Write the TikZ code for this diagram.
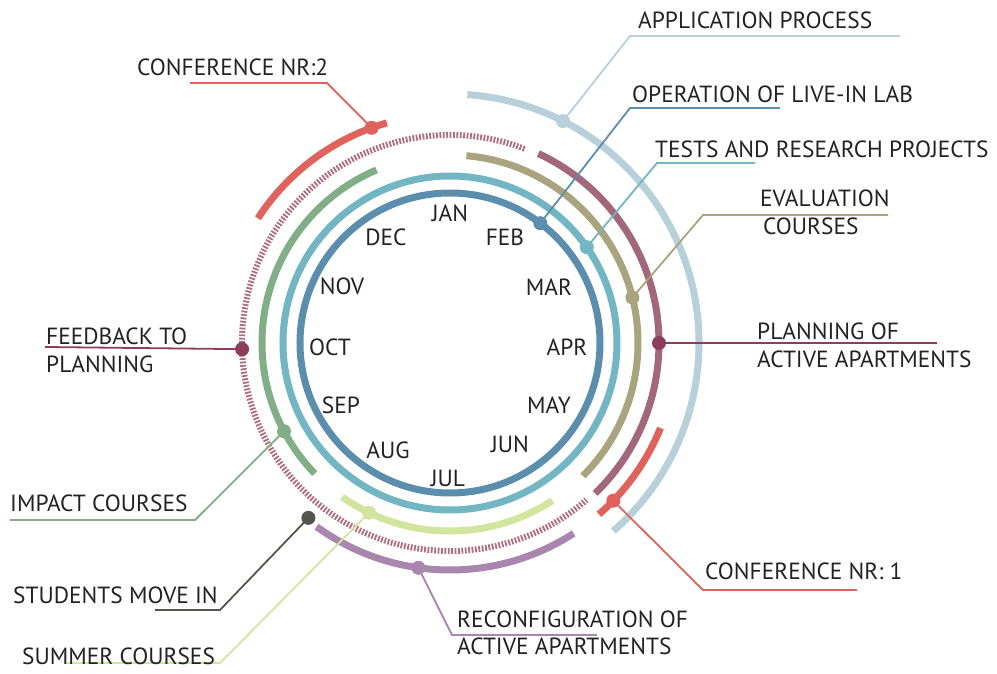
\documentclass[tikz,border=0pt]{standalone}
\usepackage{fontspec}
\setmainfont{PT Sans}
\definecolor{cblue}{HTML}{5B8DAD}
\definecolor{cteal}{HTML}{72B5C3}
\definecolor{cgreen}{HTML}{82AE87}
\definecolor{colive}{HTML}{A9A47E}
\definecolor{clgreen}{HTML}{D2E59E}
\definecolor{chatch}{HTML}{B06C80}
\definecolor{cmaroon}{HTML}{A2677A}
\definecolor{cdkmaroon}{HTML}{8E3C5B}
\definecolor{clblue}{HTML}{B7D0DA}
\definecolor{cred}{HTML}{DF625C}
\definecolor{cpurple}{HTML}{A886AE}
\definecolor{cgray}{HTML}{55554F}
\definecolor{ctext}{HTML}{222222}
\begin{document}
\begin{tikzpicture}[x=1pt,y=1pt,
  ring/.style={line width=7pt},
  conn/.style={line width=1.8pt},
  dotm/.style={circle,fill,inner sep=0pt,minimum size=14pt},
  lab/.style={anchor=base west,font=\fontsize{23.4}{28}\selectfont,text=ctext,inner sep=0pt},
  mon/.style={font=\fontsize{23.4}{28}\selectfont,text=ctext,inner sep=0pt}]
\useasboundingbox (-450,-331) rectangle (547,343);
% rings
\draw[ring,cblue] (0,0) circle (150);
\draw[ring,cteal] (0,0) circle (167);
\draw[ring,cgreen] (113:188) arc (113:224:188);
\draw[ring,colive] (85:188) arc (85:-45:188);
\draw[ring,clgreen] (235:188) arc (235:303:188);
\draw[line width=6pt,chatch,dash pattern=on 1.8pt off 1.6pt] (69:208) arc (69:311:208);
\draw[ring,cmaroon] (65:209) arc (65:-46:209);
\draw[ring,cred] (106:229) arc (106:147:229);
\draw[ring,cred] (-22:227) arc (-22:-49:227);
\draw[ring,cpurple] (234:227) arc (234:303:227);
\draw[ring,clblue] (86:249) arc (86:-49:249);
% dots
\node[dotm,cblue] (dop) at (53:150) {};
\node[dotm,cteal] (dte) at (35:167) {};
\node[dotm,colive] (dev) at (14:188) {};
\node[dotm,cdkmaroon] (dpl) at (0:209) {};
\node[dotm,clblue] (dap) at (63:249) {};
\node[dotm,cred] (dc1) at (-44:227) {};
\node[dotm,cpurple] (dre) at (262:227) {};
\node[dotm,clgreen] (dsu) at (244.5:188) {};
\node[dotm,cgray] (dst) at (231:225) {};
\node[dotm,cgreen] (dim) at (208:188) {};
\node[dotm,cdkmaroon] (dfe) at (181.7:208) {};
\node[dotm,cred] (dc2) at (110:229) {};
% corner coordinates
\coordinate (kap) at (180,307); \coordinate (eap) at (450,307);
\coordinate (kop) at (180,235); \coordinate (eop) at (330,235);
\coordinate (kte) at (207,180); \coordinate (ete) at (305,180);
\coordinate (kev) at (253,128); \coordinate (eev) at (438,128);
\coordinate (epl) at (487,0);
\coordinate (kc1) at (253,-247); \coordinate (ec1) at (407,-247);
\coordinate (kre) at (2,-292); \coordinate (ere) at (147,-292);
\coordinate (ksu) at (-230,-320); \coordinate (esu) at (-383,-320);
\coordinate (kst) at (-230,-267); \coordinate (est) at (-295,-267);
\coordinate (kim) at (-255,-177); \coordinate (eim) at (-440,-177);
\coordinate (efe) at (-405,-4);
\coordinate (kc2) at (-123,260); \coordinate (ec2) at (-260,260);
% connectors
\draw[conn,clblue] (dap.center) -- (kap) -- (eap);
\draw[conn,cblue] (dop.center) -- (kop) -- (eop);
\draw[conn,cteal] (dte.center) -- (kte) -- (ete);
\draw[conn,colive] (dev.center) -- (kev) -- (eev);
\draw[conn,cdkmaroon] (dpl.center) -- (epl);
\draw[conn,cred] (dc1.center) -- (kc1) -- (ec1);
\draw[conn,cpurple] (dre.center) -- (kre) -- (ere);
\draw[conn,clgreen] (dsu.center) -- (ksu) -- (esu);
\draw[conn,cgray] (dst.center) -- (kst) -- (est);
\draw[conn,cgreen] (dim.center) -- (kim) -- (eim);
\draw[conn,cdkmaroon] (dfe.center) -- (efe);
\draw[conn,cred] (dc2.center) -- (kc2) -- (ec2);
% labels
\node[lab] (tap) at (188,314) {APPLICATION PROCESS};
\node[lab] (top) at (182,240) {OPERATION OF LIVE-IN LAB};
\node[lab] (tte) at (205,185) {TESTS AND RESEARCH PROJECTS};
\node[lab] (tev1) at (310,136) {EVALUATION};
\node[lab] (tev2) at (313,108) {COURSES};
\node[lab] (tpl1) at (307,3) {PLANNING OF};
\node[lab] (tpl2) at (307,-25) {ACTIVE APARTMENTS};
\node[lab] (tc1) at (255,-237) {CONFERENCE NR: 1};
\node[lab] (tre1) at (7,-285) {RECONFIGURATION OF};
\node[lab] (tre2) at (7,-312) {ACTIVE APARTMENTS};
\node[lab] (tsu) at (-428,-322) {SUMMER COURSES};
\node[lab] (tst) at (-437,-261) {STUDENTS MOVE IN};
\node[lab] (tim) at (-440,-169) {IMPACT COURSES};
\node[lab] (tfe1) at (-404,-2) {FEEDBACK TO};
\node[lab] (tfe2) at (-404,-30) {PLANNING};
\node[lab] (tc2) at (-313,267) {CONFERENCE NR:2};
% months
\node[mon] (mjan) at (0,130) {JAN};
\node[mon] (mfeb) at (55,106) {FEB};
\node[mon] (mmar) at (99,56) {MAR};
\node[mon] (mapr) at (117,-4) {APR};
\node[mon] (mmay) at (99,-62) {MAY};
\node[mon] (mjun) at (60,-101) {JUN};
\node[mon] (mjul) at (-2,-135) {JUL};
\node[mon] (maug) at (-62,-107) {AUG};
\node[mon] (msep) at (-109,-62) {SEP};
\node[mon] (moct) at (-120,-4) {OCT};
\node[mon] (mnov) at (-108,57) {NOV};
\node[mon] (mdec) at (-64,106) {DEC};
\end{tikzpicture}
\end{document}
